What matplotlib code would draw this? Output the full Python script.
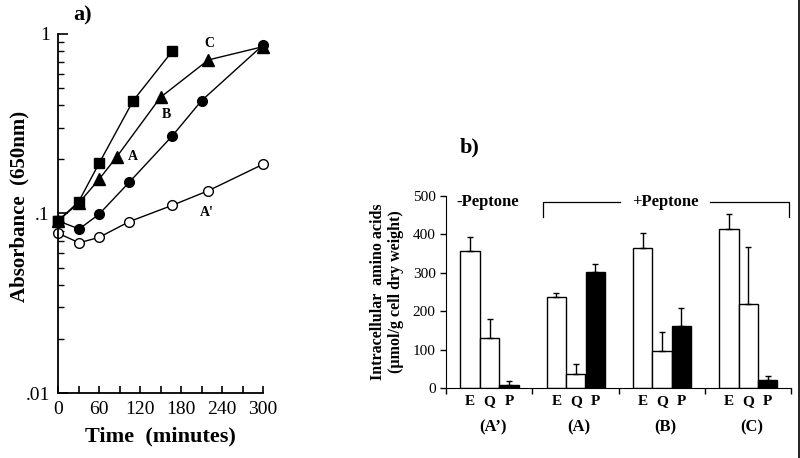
import numpy as np
import matplotlib
matplotlib.use("Agg")
import matplotlib.pyplot as plt
from matplotlib.lines import Line2D
from matplotlib.ticker import FixedLocator, FixedFormatter, LogLocator, NullFormatter

plt.rcParams['font.family'] = ['Liberation Serif', 'DejaVu Serif']

### panel a data (growth curves) ###
t_C = [0, 30, 60, 110, 167]
abs_C = [0.091, 0.116, 0.19, 0.425, 0.80]
t_B = [0, 31, 60, 86, 150, 220, 300]
abs_B = [0.091, 0.115, 0.155, 0.207, 0.444, 0.717, 0.85]
t_A = [0, 31, 60, 104, 167, 210, 300]
abs_A = [0.091, 0.082, 0.099, 0.149, 0.27, 0.425, 0.868]
t_Ap = [0, 31, 60, 104, 167, 220, 300]
abs_Ap = [0.0776, 0.0687, 0.0736, 0.09, 0.111, 0.134, 0.188]

curve_labels = ["C", "B", "A", "A'"]
label_x = [221, 159, 110, 218]
label_y = [0.887, 0.357, 0.207, 0.101]

### panel b data (amino acids) ###
groups = ["(A\u2019)", "(A)", "(B)", "(C)"]
amino = ["E", "Q", "P"]
E_vals = [356, 238, 365, 414]
E_err = [38, 9, 40, 40]
Q_vals = [130, 36, 96, 218]
Q_err = [51, 26, 50, 149]
P_vals = [8, 302, 162, 22]
P_err = [10, 20, 47, 8]

fig = plt.figure(figsize=(8, 4.58), dpi=100)

###Panel a###
ax = fig.add_axes([0.0725, 0.1419, 0.2563, 0.7839])
ax.set_yscale('log')
ax.plot(t_C, abs_C, '-', color='black', lw=1.0, marker='s', ms=7.5, mfc='black', clip_on=False)
ax.plot(t_B, abs_B, '-', color='black', lw=1.0, marker='^', ms=8, mfc='black', clip_on=False)
ax.plot(t_A, abs_A, '-', color='black', lw=1.0, marker='o', ms=7, mfc='black', clip_on=False)
ax.plot(t_Ap, abs_Ap, '-', color='black', lw=1.0, marker='o', ms=7, mfc='white', mew=1.0, clip_on=False)
# redraw squares on top of start point
ax.plot(t_C[:1], abs_C[:1], 's', color='black', ms=7.5, clip_on=False, zorder=5)
for lab, lx, ly in zip(curve_labels, label_x, label_y):
	ax.text(lx, ly, lab, fontsize=10, fontweight='bold', ha='center', va='center')

ax.set_xlim(0, 300)
ax.set_ylim(0.01, 1)
ax.spines['top'].set_visible(False)
ax.spines['right'].set_visible(False)
for s in ['left', 'bottom']:
	ax.spines[s].set_linewidth(1.3)
ax.xaxis.set_major_locator(FixedLocator([0, 60, 120, 180, 240, 300]))
ax.xaxis.set_minor_locator(FixedLocator([30, 90, 150, 210, 270]))
ax.tick_params(axis='x', which='both', direction='in', length=5, width=1.2, labelsize=14, pad=6)
ax.yaxis.set_major_locator(FixedLocator([0.01, 0.1, 1]))
ax.yaxis.set_major_formatter(FixedFormatter(['.01', '.1', '1']))
ax.yaxis.set_minor_locator(LogLocator(base=10, subs=np.arange(2, 10)))
ax.yaxis.set_minor_formatter(NullFormatter())
ax.tick_params(axis='y', which='major', direction='in', length=7, width=1.2, labelsize=14, pad=6)
ax.tick_params(axis='y', which='minor', direction='in', length=4, width=1.0)
ax.set_xlabel('Time  (minutes)', fontsize=16, fontweight='bold', labelpad=6)
ax.set_ylabel('Absorbance  (650nm)', fontsize=15, fontweight='bold')
ax.yaxis.set_label_coords(-0.14, 0.52)
fig.text(83/800, 1 - 15/458, 'a)', fontsize=16, fontweight='bold', ha='center', va='center')

###Panel b###
bx = fig.add_axes([0.5575, 0.1528, 0.43125, 0.4192])
gx = np.arange(len(groups))
offsets = [0.28, 0.505, 0.73]
width = 0.224
vals = [E_vals, Q_vals, P_vals]
errs = [E_err, Q_err, P_err]
fills = ['white', 'white', 'black']
for i in range(3):
	xs = gx + offsets[i]
	bx.bar(xs, vals[i], width=width, color=fills[i], edgecolor='black', lw=1.0, zorder=2)
	bx.errorbar(xs, vals[i], yerr=[np.zeros(len(groups)), errs[i]], fmt='none',
		ecolor='black', elinewidth=1.0, capsize=2.5, capthick=1.0, zorder=3)
	for x in xs:
		bx.text(x, -36, amino[i], fontsize=11, fontweight='bold', ha='center', va='center')
for g, lab in zip(gx, groups):
	bx.text(g + 0.54, -102, lab, fontsize=12, fontweight='bold', ha='center', va='center')

bx.set_xlim(0, 4)
bx.set_ylim(0, 500)
bx.spines['top'].set_visible(False)
bx.spines['right'].set_visible(False)
bx.xaxis.set_major_locator(FixedLocator([0, 1, 2, 3, 4]))
bx.xaxis.set_major_formatter(NullFormatter())
bx.tick_params(axis='x', direction='out', length=4, width=1.0)
bx.yaxis.set_major_locator(FixedLocator([0, 100, 200, 300, 400, 500]))
bx.tick_params(axis='y', direction='out', length=4, width=1.0, labelsize=11)
bx.set_ylabel('Intracellular  amino acids\n(\u00b5mol/g cell dry weight)', fontsize=11.5,
	fontweight='bold', labelpad=6, linespacing=1.2)

# -Peptone / +Peptone annotations
bx.text(0.48, 484, '-Peptone', fontsize=12, fontweight='bold', ha='center', va='center')
bx.plot([1.12, 1.12, 2.02], [445, 484, 484], color='black', lw=0.9, clip_on=False)
bx.plot([3.06, 3.98, 3.98], [484, 484, 445], color='black', lw=0.9, clip_on=False)
bx.text(2.54, 484, '+Peptone', fontsize=12, fontweight='bold', ha='center', va='center')
fig.text(470/800, 1 - 147/458, 'b)', fontsize=16, fontweight='bold', ha='center', va='center')

# scan border on the right edge
fig.add_artist(Line2D([0.9985, 0.9985], [0, 1], color='black', lw=1.2))

plt.savefig('out.png', dpi=100)
